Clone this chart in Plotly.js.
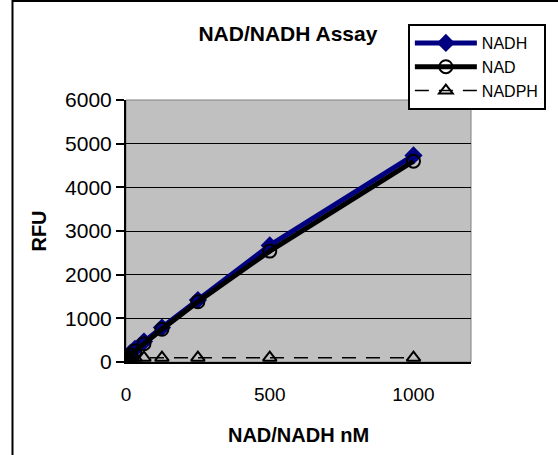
<!DOCTYPE html>
<html>
<head>
<meta charset="utf-8">
<script src="https://cdn.plot.ly/plotly-3.0.1.min.js"></script>
<style>html,body{margin:0;padding:0;background:#fff;}#chart{width:558px;height:455px;}</style>
</head>
<body>
<div id="chart"></div>
<script>
const concentration = [0, 7.8, 15.6, 31.25, 62.5, 125, 250, 500, 1000];
const nadh  = [60, 140, 210, 300, 470, 790, 1420, 2670, 4730];
const nad   = [30, 100, 160, 250, 420, 750, 1380, 2540, 4600];
const nadph = [100, 100, 100, 100, 100, 100, 100, 100, 100];
const yTicks = [0, 1000, 2000, 3000, 4000, 5000, 6000];
const xTicks = [0, 500, 1000];

const font = 'Arial, "Liberation Sans", sans-serif';

const traces = [
  {x: concentration, y: nadh, name: 'NADH', type: 'scatter', mode: 'lines+markers',
   line: {color: '#000080', width: 5}, marker: {symbol: 'diamond', size: 14, color: '#000080'}},
  {x: concentration, y: nad, name: 'NAD', type: 'scatter', mode: 'lines+markers',
   line: {color: '#000000', width: 5}, marker: {symbol: 'circle-open', size: 13, color: '#000000', line: {width: 2}}},
  {x: concentration, y: nadph, name: 'NADPH', type: 'scatter', mode: 'lines+markers',
   line: {color: '#000000', width: 1.5, dash: '14px,10px'}, marker: {symbol: 'triangle-up-open', size: 12, color: '#000000', line: {width: 2}}}
];

const layout = {
  width: 558, height: 455,
  margin: {l: 126, r: 80, t: 100, b: 93},
  paper_bgcolor: '#ffffff',
  plot_bgcolor: '#c0c0c0',
  showlegend: true,
  font: {family: font, color: '#000'},
  title: {text: '<b>NAD/NADH Assay</b>', font: {family: font, size: 21, color: '#000'}, x: 0.516, xanchor: 'center', y: 0.927, yanchor: 'middle'},
  xaxis: {
    range: [0, 1200], tickvals: xTicks, ticktext: xTicks.map(String),
    showgrid: false, zeroline: false, showline: true, linecolor: '#000', linewidth: 2,
    ticks: 'outside', ticklen: 14, tickcolor: 'rgba(0,0,0,0)',
    tickfont: {family: font, size: 19, color: '#000'},
    title: {text: '<b>NAD/NADH nM</b>', font: {family: font, size: 20, color: '#000'}, standoff: 24}
  },
  yaxis: {
    range: [0, 6000], tickvals: yTicks, ticktext: yTicks.map(String),
    showgrid: true, gridcolor: '#000', gridwidth: 1, zeroline: false,
    showline: true, linecolor: '#000', linewidth: 2,
    ticks: 'outside', ticklen: 8, tickwidth: 2, tickcolor: '#000',
    tickfont: {family: font, size: 21, color: '#000'},
    title: {text: '<b>RFU</b>', font: {family: font, size: 20, color: '#000'}, standoff: 13}
  },
  legend: {
    x: 0.817, y: 1.29, xanchor: 'left', yanchor: 'top',
    bgcolor: '#ffffff', bordercolor: '#000', borderwidth: 2,
    font: {family: font, size: 16, color: '#000'},
    itemwidth: 62, tracegroupgap: 0
  },
  shapes: [
    {type: 'rect', xref: 'paper', yref: 'paper', x0: 0, x1: 1, y0: 0, y1: 1,
     line: {color: '#808080', width: 1}, fillcolor: 'rgba(0,0,0,0)', layer: 'below'},
    {type: 'rect', xref: 'paper', yref: 'paper', x0: -0.329, x1: 1.5, y0: -0.5, y1: 1.378,
     line: {color: '#000', width: 2}, fillcolor: 'rgba(0,0,0,0)'}
  ]
};

Plotly.newPlot('chart', traces, layout, {displayModeBar: false, staticPlot: true});
</script>
</body>
</html>
